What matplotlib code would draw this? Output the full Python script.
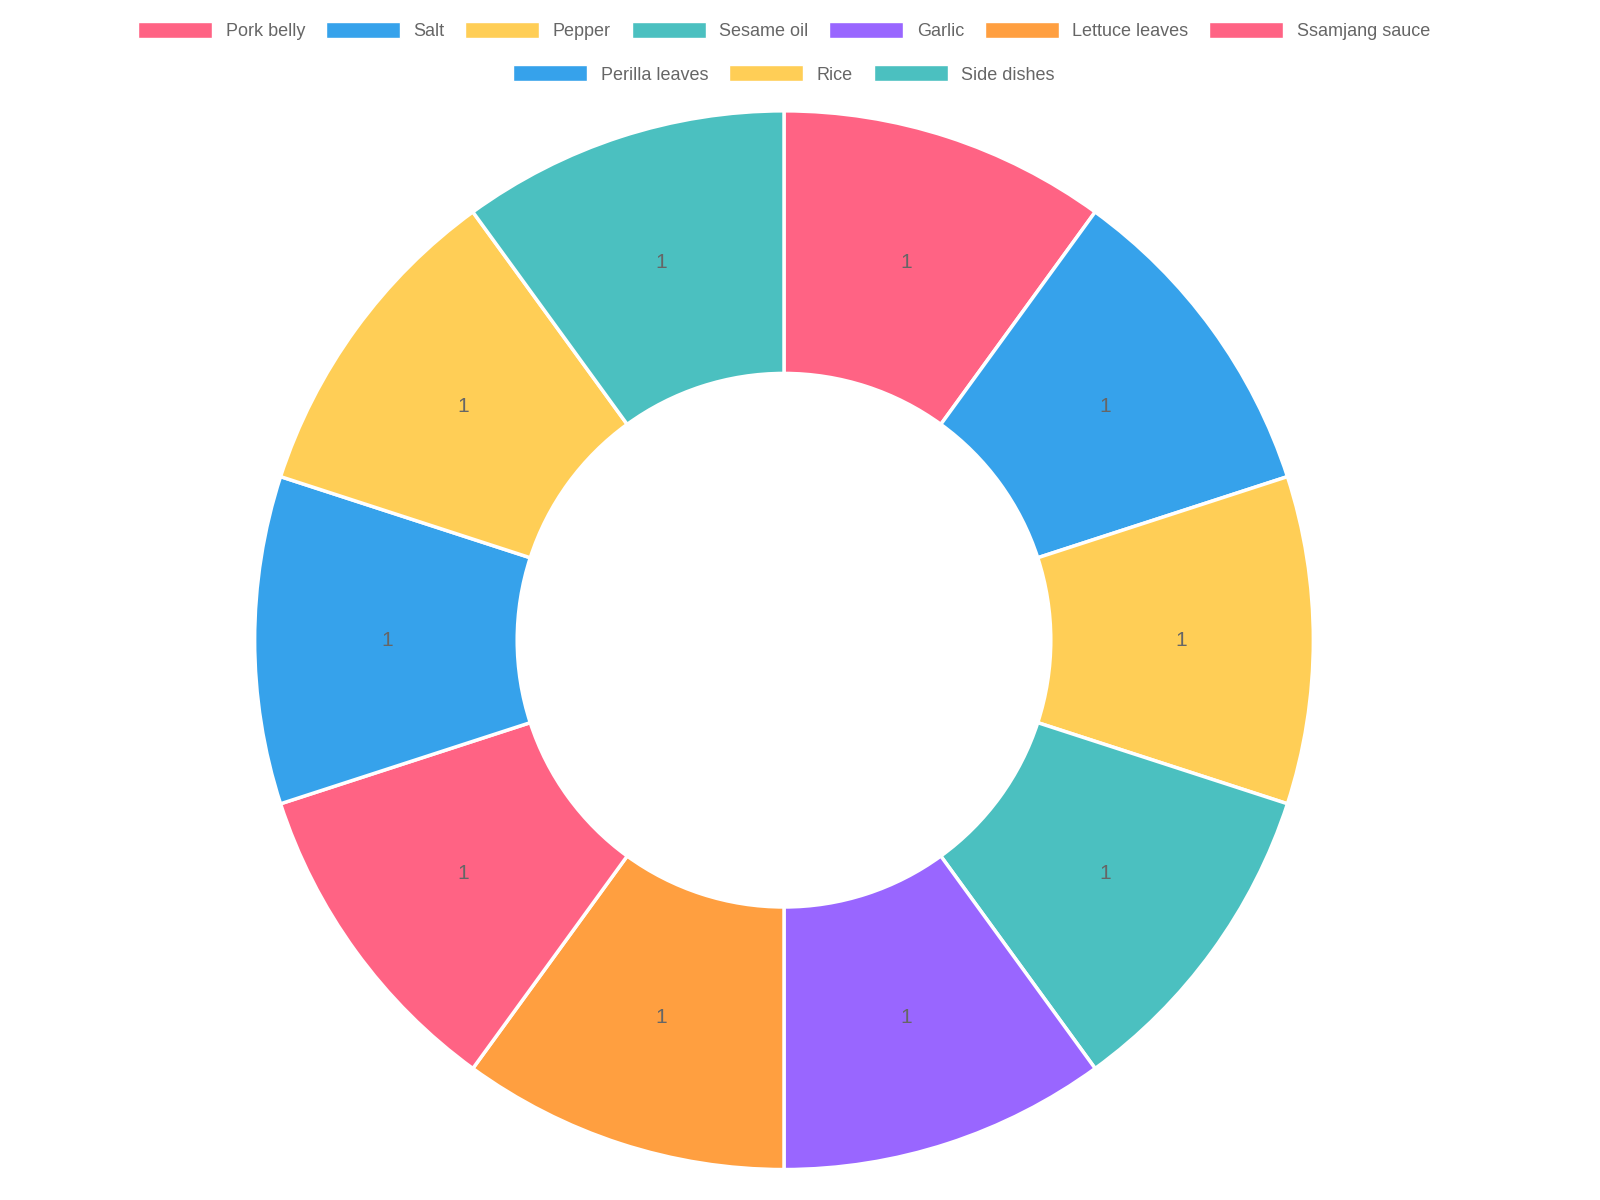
import matplotlib
matplotlib.use("Agg")
import matplotlib.pyplot as plt
from matplotlib.patches import Patch

plt.rcParams['font.family'] = ['Liberation Sans', 'DejaVu Sans']

labels = ["Pork belly", "Salt", "Pepper", "Sesame oil", "Garlic", "Lettuce leaves",
          "Ssamjang sauce", "Perilla leaves", "Rice", "Side dishes"]
values = [1, 1, 1, 1, 1, 1, 1, 1, 1, 1]
colors = ["#FF6384", "#36A2EB", "#FFCE56", "#4BC0C0", "#9966FF", "#FF9F40",
          "#FF6384", "#36A2EB", "#FFCE56", "#4BC0C0"]

fig = plt.figure(figsize=(16, 12), dpi=100)
ax = fig.add_axes([0.1575, 0.023, 0.665, 0.887])
wedges, texts = ax.pie(values, colors=colors, startangle=90, counterclock=False,
                       wedgeprops=dict(width=0.496, edgecolor="white", linewidth=2.5),
                       labels=[str(v) for v in values], labeldistance=0.75,
                       textprops=dict(color="#666666", fontsize=15, ha="center", va="center"))
for t in texts:
    t.set_ha("center"); t.set_va("center")
ax.set_xlim(-1.005, 1.005)
ax.set_ylim(-1.005, 1.005)
ax.set_aspect("equal")

handles = [Patch(facecolor=c, edgecolor="white", label=l) for c, l in zip(colors, labels)]
common = dict(frameon=False, fontsize=13, handlelength=4.1, handleheight=1.0,
              columnspacing=1.15, handletextpad=0.75, labelcolor="#666666", borderaxespad=0)
fig.legend(handles=handles[:7], ncol=7, loc="center", bbox_to_anchor=(0.49, 0.974), **common)
fig.legend(handles=handles[7:], ncol=3, loc="center", bbox_to_anchor=(0.49, 0.938), **common)

fig.savefig("out.png", dpi=100, facecolor="white")
